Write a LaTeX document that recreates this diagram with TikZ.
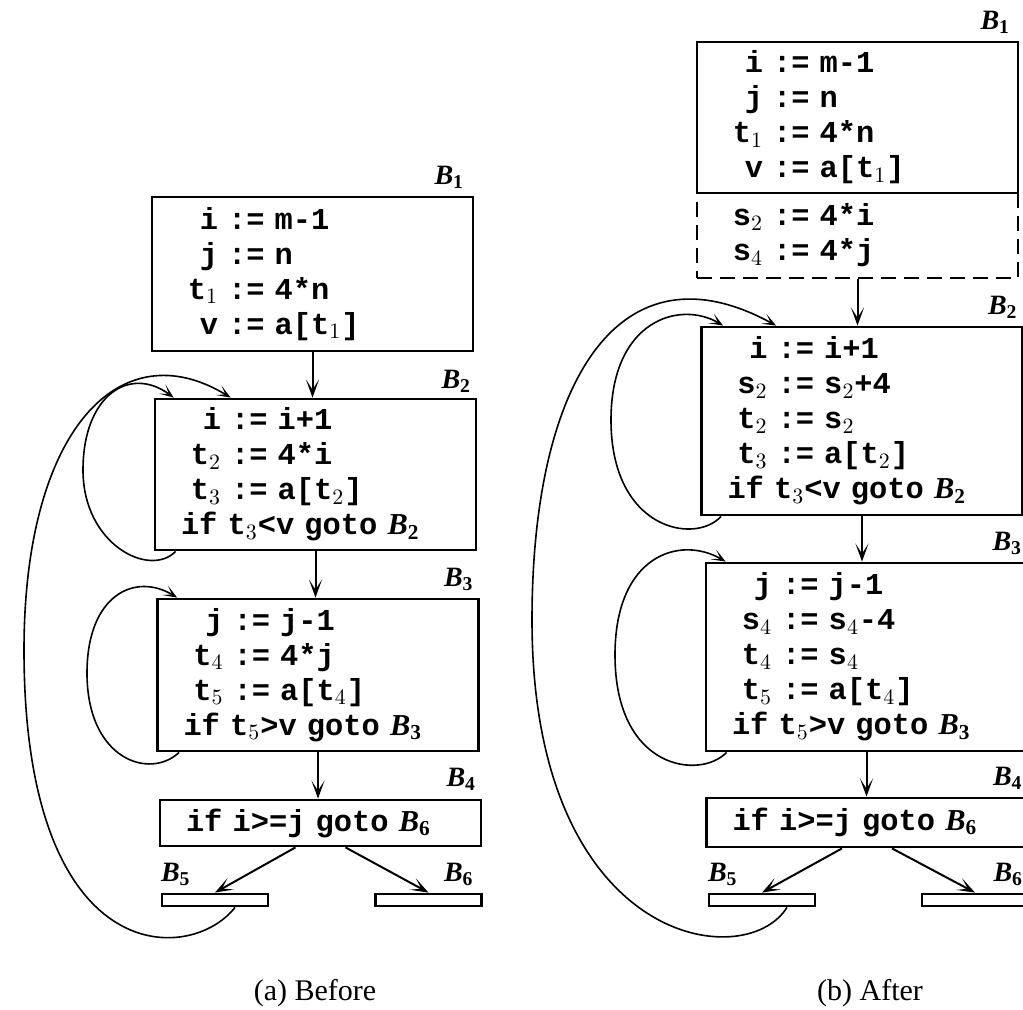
\documentclass[tikz,border=0pt]{standalone}
\usepackage{fontspec}
\setmainfont{Liberation Serif}
\setmonofont{Liberation Mono}
\usetikzlibrary{arrows.meta}

\newcommand{\blk}[1]{{\rmfamily\bfseries\itshape B}\textsubscript{\rmfamily\bfseries\upshape #1}}
\newcommand{\ix}[1]{$_{#1}$}
\newcommand{\asg}[2]{\makebox[20pt][r]{#1}\ :=\ #2}

\begin{document}
\begin{tikzpicture}[x=0.5pt, y=-0.5pt,
    box/.style={draw, line width=1.4pt, inner xsep=13pt, inner ysep=0pt,
        text width=134.5pt, align=left,
        font=\ttfamily\bfseries\fontsize{15.2}{17.5}\selectfont},
    bar/.style={draw, line width=1.4pt, minimum width=53pt, minimum height=6pt, inner sep=0pt},
    blabel/.style={font=\fontsize{14}{16}\selectfont, inner sep=0pt},
    flow/.style={-{Stealth[length=9pt,width=6.5pt,inset=5pt]}, line width=1pt},
    back/.style={-{Stealth[length=7pt,width=5.5pt,inset=4pt]}, line width=0.8pt}]
    \useasboundingbox (0,0) rectangle (1023,1010);

    % (a) before
    \node[box, minimum height=77pt] (b1a) at (312.5,274)
        {\asg{i}{m-1}\\ \asg{j}{n}\\ \asg{t\ix1}{4*n}\\ \asg{v}{a[t\ix1]}};
    \node[box, minimum height=75.5pt] (b2a) at (315.5,474.5)
        {\asg{i}{i+1}\\ \asg{t\ix2}{4*i}\\ \asg{t\ix3}{a[t\ix2]}\\ if t\ix3<v goto \blk{2}};
    \node[box, minimum height=76pt] (b3a) at (318,675)
        {\asg{j}{j-1}\\ \asg{t\ix4}{4*j}\\ \asg{t\ix5}{a[t\ix4]}\\ if t\ix5>v goto \blk{3}};
    \node[box, minimum height=23pt] (b4a) at (320.5,823) {if i>=j goto \blk{6}};
    \node[bar] (b5a) at (215,900) {};
    \node[bar] (b6a) at (428.5,900) {};

    \node[blabel, anchor=base east] (l1a) at ([shift={(-10,-11)}]b1a.north east) {\blk{1}};
    \node[blabel, anchor=base east] (l2a) at ([shift={(-6,-9)}]b2a.north east) {\blk{2}};
    \node[blabel, anchor=base east] (l3a) at ([shift={(-6,-11)}]b3a.north east) {\blk{3}};
    \node[blabel, anchor=base east] (l4a) at ([shift={(-6,-12)}]b4a.north east) {\blk{4}};
    \node[blabel, anchor=base west] (l5a) at ([shift={(0,-11)}]b5a.north west) {\blk{5}};
    \node[blabel, anchor=base east] (l6a) at ([shift={(-9,-11)}]b6a.north east) {\blk{6}};

    \draw[flow] (b1a.south) -- (b1a.south |- b2a.north);
    \draw[flow] (b2a.south) -- (b2a.south |- b3a.north);
    \draw[flow] (b3a.south) -- (b3a.south |- b4a.north);
    \draw[flow] ([shift={(-25,0)}]b4a.south) -- (b5a.north);
    \draw[flow] ([shift={(25,0)}]b4a.south) -- (b6a.north);

    \draw[back] ([shift={(22,0)}]b2a.south west) .. controls (150,578) and (83,545) .. (83,470)
        .. controls (83,395) and (130,365) .. ([shift={(20,0)}]b2a.north west);
    \draw[back] ([shift={(23,0)}]b3a.south west) .. controls (150,780) and (87,760) .. (87,673)
        .. controls (87,595) and (135,572) .. ([shift={(21,0)}]b3a.north west);
    \draw[back] ([shift={(20,0)}]b5a.south) .. controls (190,965) and (24,970) .. (24,650)
        .. controls (24,430) and (120,330) .. ([shift={(77,0)}]b2a.north west);

    % (b) after
    \node[box, dash pattern=on 7.5pt off 4pt, minimum height=42.5pt] (s1b) at (857.5,235.5)
        {\asg{s\ix2}{4*i}\\ \asg{s\ix4}{4*j}};
    \node[box, minimum height=75.5pt] (b1b) at (857.5,117.5)
        {\asg{i}{m-1}\\ \asg{j}{n}\\ \asg{t\ix1}{4*n}\\ \asg{v}{a[t\ix1]}};
    \node[box, minimum height=94pt] (b2b) at (862,421)
        {\asg{i}{i+1}\\ \asg{s\ix2}{s\ix2+4}\\ \asg{t\ix2}{s\ix2}\\ \asg{t\ix3}{a[t\ix2]}\\ if t\ix3<v goto \blk{2}};
    \node[box, minimum height=94pt] (b3b) at (866.5,657)
        {\asg{j}{j-1}\\ \asg{s\ix4}{s\ix4-4}\\ \asg{t\ix4}{s\ix4}\\ \asg{t\ix5}{a[t\ix4]}\\ if t\ix5>v goto \blk{3}};
    \node[box, minimum height=24.5pt] (b4b) at (867,822.5) {if i>=j goto \blk{6}};
    \node[bar] (b5b) at (762,900) {};
    \node[bar] (b6b) at (975,900) {};

    \node[blabel, anchor=base east] (l1b) at ([shift={(-9,-11)}]b1b.north east) {\blk{1}};
    \node[blabel, anchor=base east] (l2b) at ([shift={(-6,-11)}]b2b.north east) {\blk{2}};
    \node[blabel, anchor=base east] (l3b) at ([shift={(-6,-11)}]b3b.north east) {\blk{3}};
    \node[blabel, anchor=base east] (l4b) at ([shift={(-6,-11)}]b4b.north east) {\blk{4}};
    \node[blabel, anchor=base west] (l5b) at ([shift={(0,-11)}]b5b.north west) {\blk{5}};
    \node[blabel, anchor=base east] (l6b) at ([shift={(-6,-11)}]b6b.north east) {\blk{6}};

    \draw[flow] (s1b.south) -- (s1b.south |- b2b.north);
    \draw[flow] (b2b.south) -- (b2b.south |- b3b.north);
    \draw[flow] (b3b.south) -- (b3b.south |- b4b.north);
    \draw[flow] ([shift={(-25,0)}]b4b.south) -- (b5b.north);
    \draw[flow] ([shift={(25,0)}]b4b.south) -- (b6b.north);

    \draw[back] ([shift={(21,0)}]b2b.south west) .. controls (695,545) and (611,530) .. (611,420)
        .. controls (611,320) and (680,300) .. ([shift={(23,0)}]b2b.north west);
    \draw[back] ([shift={(22,0)}]b3b.south west) .. controls (700,780) and (615,770) .. (615,655)
        .. controls (615,555) and (680,535) .. ([shift={(21,0)}]b3b.north west);
    \draw[back] ([shift={(25,0)}]b5b.south) .. controls (745,975) and (532,945) .. (532,620)
        .. controls (532,380) and (620,240) .. ([shift={(76,0)}]b2b.north west);

    \node[font=\fontsize{15}{18}\selectfont, anchor=base] (capa) at (315,1000) {(a) Before};
    \node[font=\fontsize{15}{18}\selectfont, anchor=base] (capb) at (870,1000) {(b) After};
\end{tikzpicture}
\end{document}
